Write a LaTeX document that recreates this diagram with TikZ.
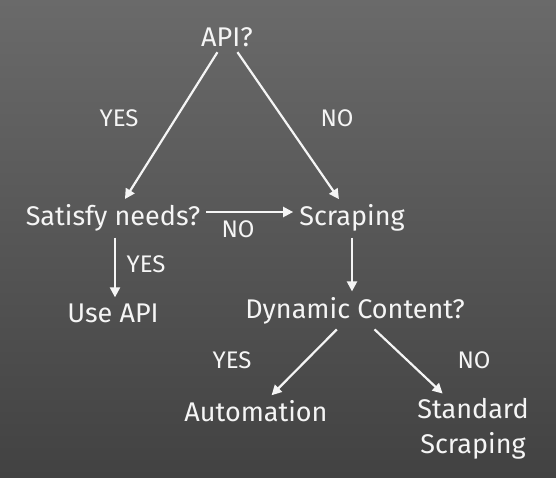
\documentclass[tikz,border=0pt]{standalone}
\usepackage{fontspec}
\setmainfont{Fira Sans}
\usetikzlibrary{arrows.meta}
\definecolor{boardtop}{RGB}{106,106,106}
\definecolor{boardbot}{RGB}{66,66,66}
\definecolor{chalk}{RGB}{245,245,245}
\tikzset{
  word/.style={text=chalk, font=\fontsize{27}{32}\selectfont, inner sep=2pt},
  answer/.style={text=chalk, font=\fontsize{24}{28}\selectfont, inner sep=1pt},
  chalkarrow/.style={draw=chalk, line width=2.2pt, -{Triangle[width=10pt,length=10pt]}, shorten <=4pt, shorten >=4pt}
}
\begin{document}
\begin{tikzpicture}[x=1pt,y=-1pt]
  % Board
  \shade[top color=boardtop, bottom color=boardbot] (0,0) rectangle (556,477);
  \useasboundingbox (0,0) rectangle (556,477);
  % Questions and outcomes
  \node[word] (api) at (227,37) {API?};
  \node[word] (sat) at (113,218) {Satisfy needs?};
  \node[word] (scr) at (352,218) {Scraping};
  \node[word] (use) at (113,313) {Use API};
  \node[word] (dyn) at (355,311) {Dynamic Content?};
  \node[word] (auto) at (256,411) {Automation};
  \node[word, align=center] (std) at (473,429) {Standard\\[3pt]Scraping};
  % Arrows
  \draw[chalkarrow] (api) -- (sat);
  \draw[chalkarrow] (api) -- (scr);
  \draw[chalkarrow] (sat.east |- 0,212) -- (scr.west |- 0,212);
  \draw[chalkarrow] (sat.south -| 115,0) -- (use.north -| 115,0);
  \draw[chalkarrow] (scr) -- (dyn.north -| scr);
  \draw[chalkarrow] (dyn) -- (auto);
  \draw[chalkarrow] (dyn) -- (std.130);
  % Answers
  \node[answer] (yes1) at (119,118) {YES};
  \node[answer] (no1) at (337,118) {NO};
  \node[answer] (no2) at (238,229) {NO};
  \node[answer] (yes2) at (146,264) {YES};
  \node[answer] (yes3) at (232,360) {YES};
  \node[answer] (no3) at (474,360) {NO};
\end{tikzpicture}
\end{document}
